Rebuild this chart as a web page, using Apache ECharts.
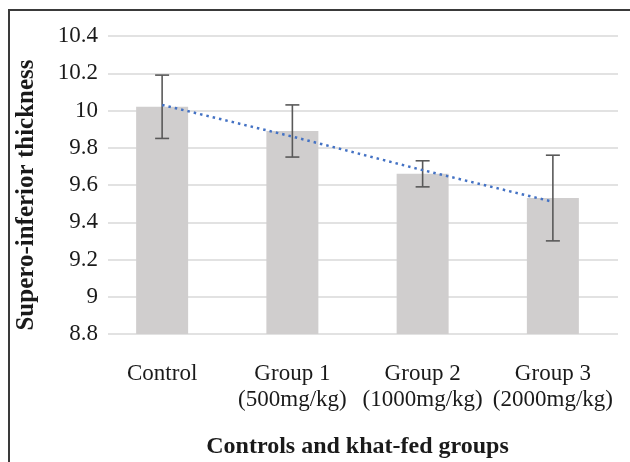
<!DOCTYPE html>
<html>
<head>
<meta charset="utf-8">
<script src="https://cdn.jsdelivr.net/npm/echarts@6/dist/echarts.min.js"></script>
<style>html,body{margin:0;padding:0;background:#fff}#c{width:630px;height:462px}</style>
</head>
<body>
<div id="c"></div>
<script>
var categories = ['Control', 'Group 1\n(500mg/kg)', 'Group 2\n(1000mg/kg)', 'Group 3\n(2000mg/kg)'];
var means = [10.02, 9.89, 9.66, 9.53];
var errors = [0.17, 0.14, 0.07, 0.23];
var trend = [10.03, 9.86, 9.68, 9.51];
var yTicks = { min: 8.8, max: 10.4, interval: 0.2 };

var FONT = '"Liberation Serif", "Times New Roman", serif';
var chart = echarts.init(document.getElementById('c'), null, { renderer: 'canvas' });

var errData = means.map(function (m, i) { return [i, m - errors[i], m + errors[i]]; });

chart.setOption({
  animation: false,
  backgroundColor: '#fff',
  grid: [
    { left: 97, right: 12, top: 36, bottom: 128, containLabel: false, outerBoundsMode: 'none' },
    { left: 108, right: 12, top: 36, bottom: 128, containLabel: false, outerBoundsMode: 'none' }
  ],
  xAxis: [
    {
      type: 'category', gridIndex: 0, data: categories,
      axisLine: { show: false }, axisTick: { show: false },
      axisLabel: { fontFamily: FONT, fontSize: 23, color: '#1a1a1a', lineHeight: 26, margin: 27, interval: 0 },
      name: 'Controls and khat-fed groups', nameLocation: 'middle', nameGap: 101,
      nameTextStyle: { fontFamily: FONT, fontSize: 24, fontWeight: 'bold', color: '#1a1a1a' }
    },
    { type: 'category', gridIndex: 1, data: categories, show: false }
  ],
  yAxis: [
    {
      type: 'value', gridIndex: 0, min: yTicks.min, max: yTicks.max, interval: yTicks.interval,
      axisLabel: { show: false }, splitLine: { show: false }, axisLine: { show: false }, axisTick: { show: false }
    },
    {
      type: 'value', gridIndex: 1, min: yTicks.min, max: yTicks.max, interval: yTicks.interval,
      axisLine: { show: false }, axisTick: { show: false },
      splitLine: { show: true, lineStyle: { color: '#d9d9d9', width: 1.5 } },
      axisLabel: {
        fontFamily: FONT, fontSize: 23, color: '#1a1a1a', margin: 10,
        formatter: function (v) { return String(parseFloat(v.toFixed(1))); }
      }
    }
  ],
  graphic: [
    {
      type: 'rect', shape: { x: 9, y: 10, width: 700, height: 600 },
      style: { fill: 'none', stroke: '#3a3a3a', lineWidth: 2 }, z: 100
    },
    {
      type: 'text', x: 27, y: 195, rotation: Math.PI / 2,
      style: {
        text: 'Supero-inferior thickness', fontFamily: FONT, fontSize: 25, fontWeight: 'bold',
        fill: '#1a1a1a', textAlign: 'center', textVerticalAlign: 'middle'
      }
    }
  ],
  series: [
    {
      type: 'bar', xAxisIndex: 0, yAxisIndex: 0, data: means, barWidth: 52,
      itemStyle: { color: '#d0cece' }, z: 2
    },
    {
      type: 'custom', xAxisIndex: 0, yAxisIndex: 0, data: errData, z: 4,
      renderItem: function (params, api) {
        var x = api.value(0);
        var lo = api.coord([x, api.value(1)]);
        var hi = api.coord([x, api.value(2)]);
        var hw = 7;
        var st = { stroke: '#595959', lineWidth: 1.6 };
        return {
          type: 'group',
          children: [
            { type: 'line', shape: { x1: lo[0], y1: lo[1], x2: hi[0], y2: hi[1] }, style: st },
            { type: 'line', shape: { x1: lo[0] - hw, y1: lo[1], x2: lo[0] + hw, y2: lo[1] }, style: st },
            { type: 'line', shape: { x1: hi[0] - hw, y1: hi[1], x2: hi[0] + hw, y2: hi[1] }, style: st }
          ]
        };
      }
    },
    {
      type: 'line', xAxisIndex: 0, yAxisIndex: 0, data: trend, symbol: 'none', z: 5,
      lineStyle: { color: '#4472c4', width: 2.5, type: [2.5, 4] }
    }
  ]
});
</script>
</body>
</html>
